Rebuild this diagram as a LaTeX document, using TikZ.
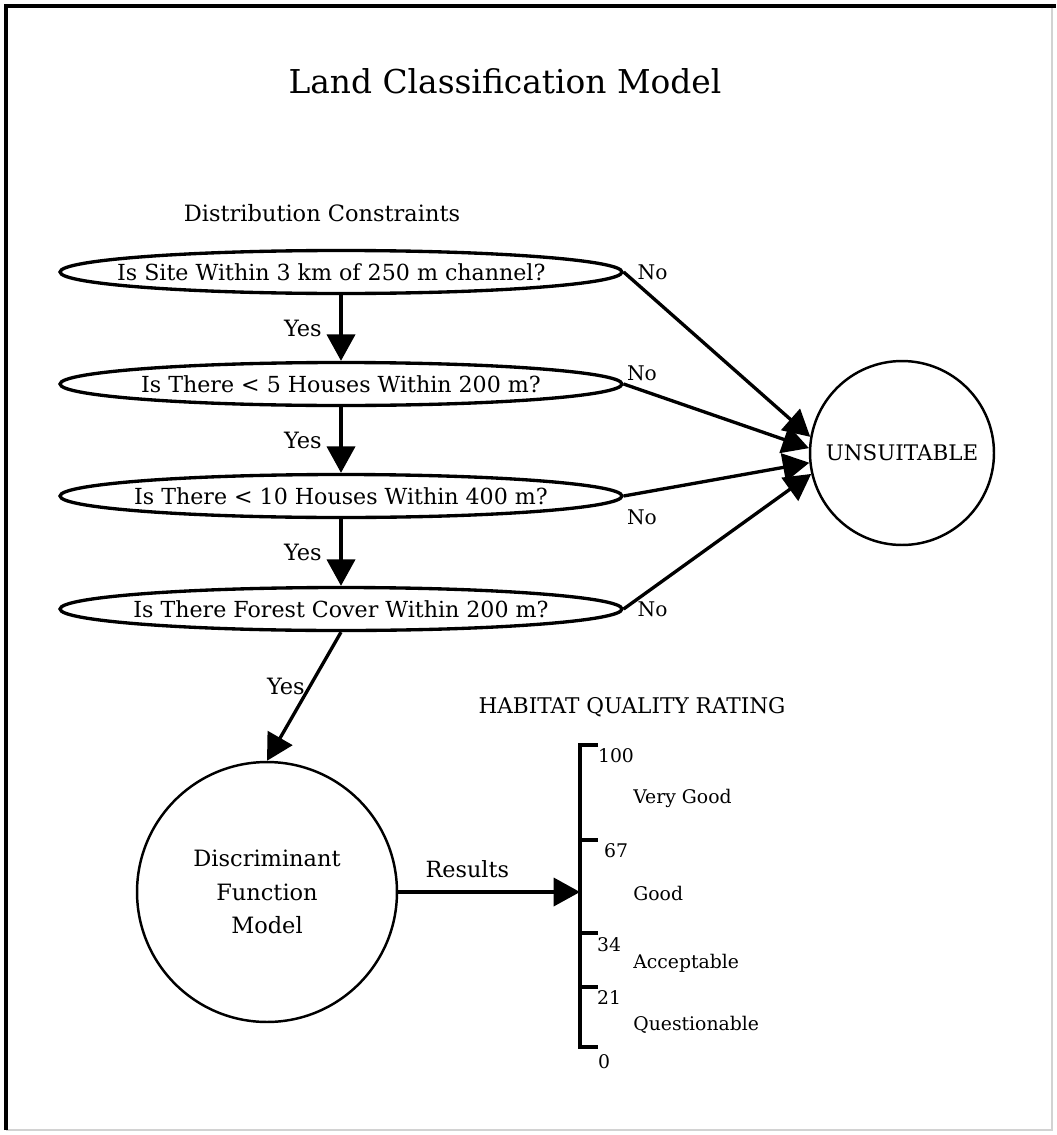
\documentclass[tikz,border=0pt]{standalone}
\usepackage{fontspec}
\setmainfont{DejaVu Serif}
\usetikzlibrary{arrows.meta,shapes.geometric,positioning}

\begin{document}
\begin{tikzpicture}[
            x=0.02cm, y=-0.02cm,
            question/.style={ellipse, draw=black, line width=1.9pt, minimum width=11.24cm, minimum height=0.86cm, inner sep=0pt, font=\fontsize{12.6}{15}\selectfont},
            outcome/.style={circle, draw=black, line width=1.4pt, inner sep=0pt},
            flow/.style={-{Triangle[length=15pt, width=16pt]}, line width=1.9pt},
            answer/.style={font=\fontsize{11.5}{13}\selectfont, inner sep=1pt},
            rating/.style={font=\fontsize{10.7}{12}\selectfont, inner sep=0pt},
            bar/.style={line width=1.9pt}
        ]

        % Page frame
        \useasboundingbox (0,0) rectangle (1056,1135);
        \draw[gray!35, line width=0.6pt] (1052,6) -- (1052,1130) -- (6,1130);
        \draw[line width=2.4pt] (6,1130) -- (6,6) -- (1056,6);

        % Headings
        \node[font=\fontsize{18.7}{22}\selectfont] (title) at (505,81) {Land Classification Model};
        \node[font=\fontsize{12.8}{15}\selectfont] (constr) at (322,213) {Distribution Constraints};

        % Distribution constraints
        \node[question] (q1) at (341,272) {\makebox[0pt]{\hspace*{-11pt}Is Site Within 3 km of 250 m channel?}};
        \node[question] (q2) at (341,384) {\makebox[0pt]{Is There < 5 Houses Within 200 m?}};
        \node[question] (q3) at (341,496) {\makebox[0pt]{Is There < 10 Houses Within 400 m?}};
        \node[question] (q4) at (341,609) {\makebox[0pt]{Is There Forest Cover Within 200 m?}};

        % Outcomes
        \node[outcome, minimum size=3.68cm, font=\fontsize{12.2}{14}\selectfont] (unsuit) at (902,453) {UNSUITABLE};
        \node[outcome, minimum size=5.2cm, align=center, font=\fontsize{12.8}{19}\selectfont] (dfm) at (267,892) {Discriminant\\Function\\Model};

        % Yes branches
        \draw[flow] (q1) -- (q2) node[midway, left=9pt, answer, font=\fontsize{12.8}{15}\selectfont] (yes1) {Yes};
        \draw[flow] (q2) -- (q3) node[midway, left=9pt, answer, font=\fontsize{12.8}{15}\selectfont] (yes2) {Yes};
        \draw[flow] (q3) -- (q4) node[midway, left=9pt, answer, font=\fontsize{12.8}{15}\selectfont] (yes3) {Yes};
        \draw[flow] (q4.south) -- (dfm.north) node[pos=0.42, left=1pt, answer, font=\fontsize{12.8}{15}\selectfont] (yes4) {Yes};

        % No branches
        \draw[flow] (q1.east) -- (unsuit.170) node[pos=0, right=6pt, answer] (no1) {No};
        \draw[flow] (q2.east) -- (unsuit.177) node[pos=0, above right=0pt, answer] (no2) {No};
        \draw[flow] (q3.east) -- (unsuit.186) node[pos=0, below right=6pt and 0pt, answer] (no3) {No};
        \draw[flow] (q4.east) -- (unsuit.193) node[pos=0, right=6pt, answer] (no4) {No};

        % Rating scale
        \node[font=\fontsize{12.3}{14}\selectfont] (hqr) at (632,707) {HABITAT QUALITY RATING};
        \coordinate (barmid) at (580,892);
        \draw[bar] (598,745) -- (580,745) -- (580,1047) -- (598,1047);
        \foreach \y in {840,933,987}
            \draw[bar] (580,\y) -- (598,\y);

        \draw[flow] (dfm.east) -- (barmid) node[pos=0.38, above=6pt, answer, font=\fontsize{12.7}{15}\selectfont] (res) {Results};

        \node[rating] (v100) at (616,756) {100};
        \node[rating] (v67) at (616,851) {67};
        \node[rating] (v34) at (609,945) {34};
        \node[rating] (v21) at (609,998) {21};
        \node[rating] (v0) at (604,1062) {0};

        \node[rating, anchor=west] (vgood) at (633,798) {Very Good};
        \node[rating, anchor=west] (good) at (633,893) {Good};
        \node[rating, anchor=west] (accept) at (633,963) {Acceptable};
        \node[rating, anchor=west] (quest) at (633,1025) {Questionable};

    \end{tikzpicture}
\end{document}
